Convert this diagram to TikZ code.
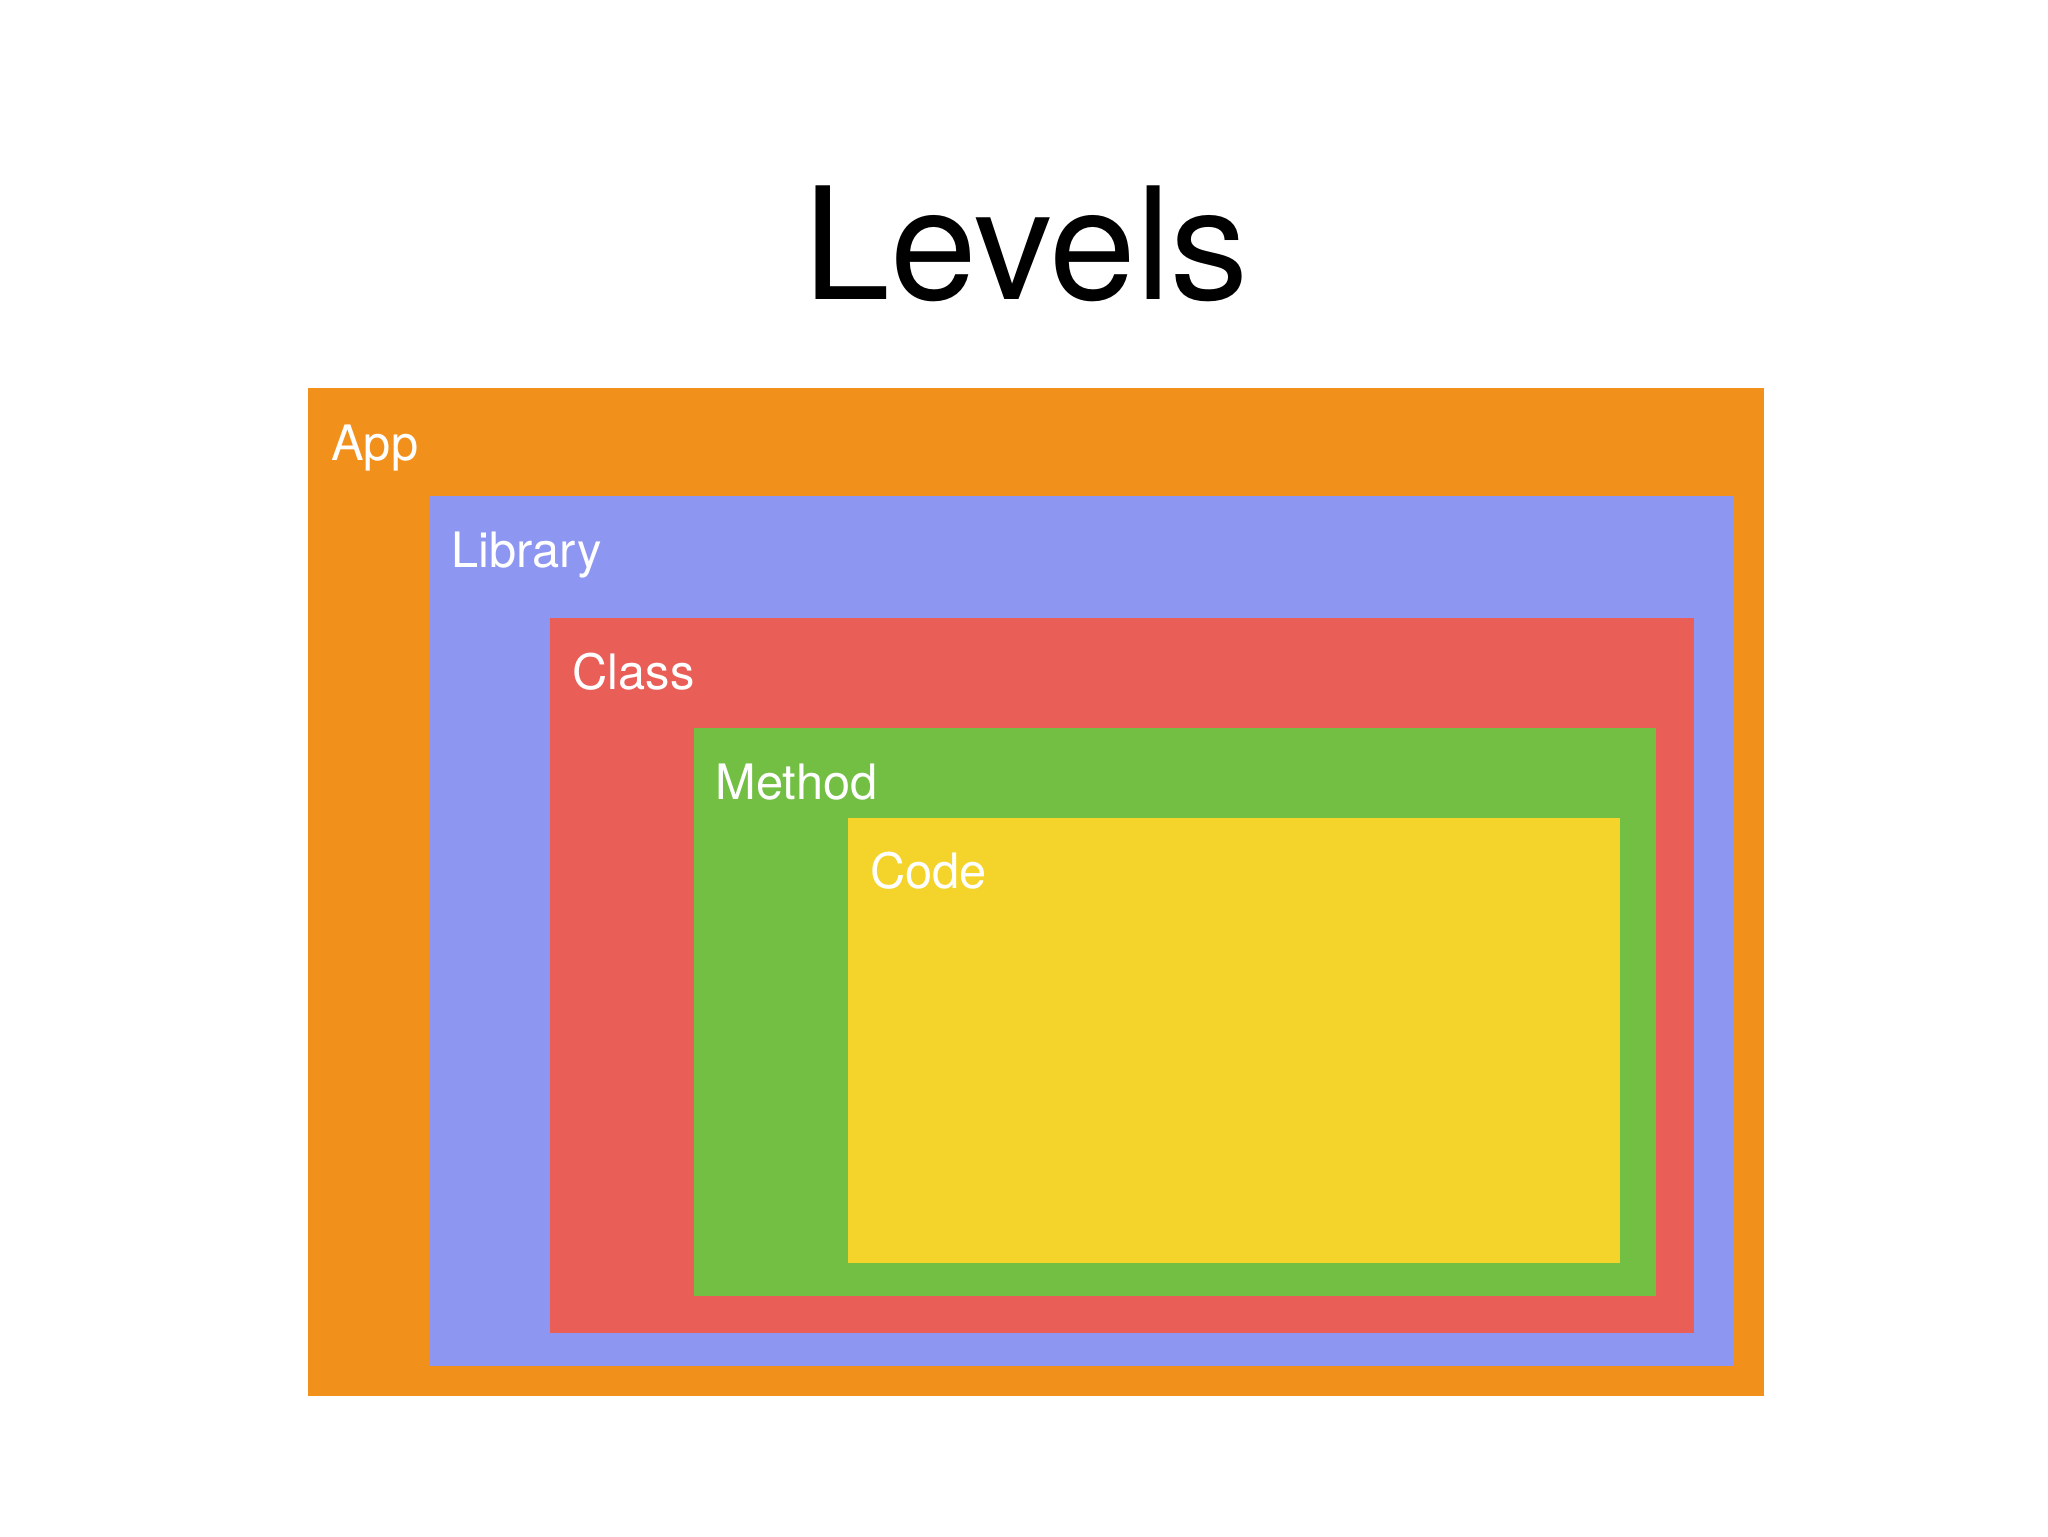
\documentclass[tikz,border=0pt]{standalone}
\usepackage{fontspec}
\setmainfont{TeX Gyre Heros}
\definecolor{cApp}{HTML}{F2901C}
\definecolor{cLib}{HTML}{8D96F0}
\definecolor{cCls}{HTML}{EA5E58}
\definecolor{cMet}{HTML}{72BF44}
\definecolor{cCod}{HTML}{F4D42A}
\tikzset{
  lbl/.style={anchor=base west, inner sep=0pt, text=white, font=\fontsize{24.4}{28}\selectfont},
  ttl/.style={anchor=base, inner sep=0pt, text=black, font=\fontsize{78}{90}\selectfont}
}
\begin{document}
\begin{tikzpicture}[x=0.5pt,y=-0.5pt]
\useasboundingbox (0,0) rectangle (2048,1536);
\fill[white] (0,0) rectangle (2048,1536);
\node[ttl] (title) at (1026,299) {Levels};
\fill[cApp] (308,388) rectangle (1764,1396);
\fill[cLib] (430,496) rectangle (1734,1366);
\fill[cCls] (550,618) rectangle (1694,1333);
\fill[cMet] (694,728) rectangle (1656,1296);
\fill[cCod] (848,818) rectangle (1620,1263);
\node[lbl] (app) at (331,460) {App};
\node[lbl] (lib) at (451,567) {Library};
\node[lbl] (cls) at (572,689) {Class};
\node[lbl] (met) at (715,799) {Method};
\node[lbl] (cod) at (870,888) {Code};
\end{tikzpicture}
\end{document}
